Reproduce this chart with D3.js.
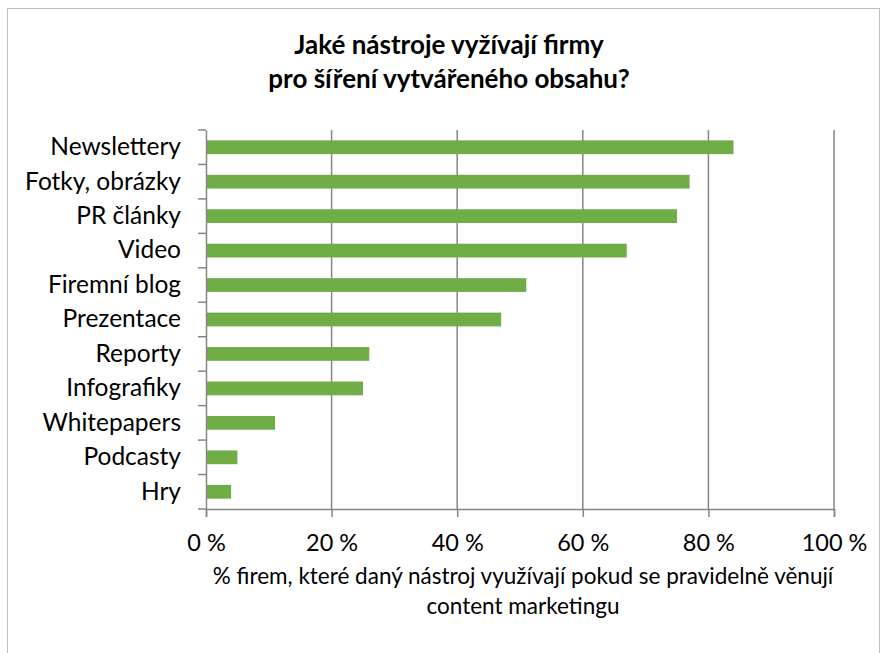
<!DOCTYPE html>
<html>
<head>
<meta charset="utf-8">
<script src="https://cdn.jsdelivr.net/npm/d3@7"></script>
<style>
  body { margin: 0; background: #fff; }
  text { font-family: Lato, "Open Sans", sans-serif; fill: #000; }
</style>
</head>
<body>
<svg id="chart" width="883" height="653"></svg>
<script>
var categories = ["Newslettery", "Fotky, obrázky", "PR články", "Video", "Firemní blog",
  "Prezentace", "Reporty", "Infografiky", "Whitepapers", "Podcasty", "Hry"];
var values = [84, 77, 75, 67, 51, 47, 26, 25, 11, 5, 4];
var xTicks = [0, 20, 40, 60, 80, 100];
var titleLines = ["Jaké nástroje vyžívají firmy", "pro šíření vytvářeného obsahu?"];
var axisTitleLines = ["% firem, které daný nástroj využívají pokud se pravidelně věnují", "content marketingu"];

var svg = d3.select("#chart");
var plot = { left: 206, right: 834, top: 130, bottom: 509 };

// chart frame
svg.append("rect")
  .attr("x", 7.5).attr("y", 8.5)
  .attr("width", 872).attr("height", 660)
  .attr("fill", "#fff")
  .attr("stroke", "#bfbfbf");

var xScale = d3.scaleLinear()
  .domain([0, 100])
  .range([plot.left, plot.right]);

var yScale = d3.scaleBand()
  .domain(categories)
  .range([plot.top, plot.bottom])
  .paddingInner(0.6)
  .paddingOuter(0.3);

var yEdges = d3.scaleBand()
  .domain(categories)
  .range([plot.top, plot.bottom]);

// gridlines
svg.append("g")
  .selectAll("line")
  .data(xTicks.slice(1))
  .enter()
  .append("line")
  .attr("x1", function(d) { return xScale(d); })
  .attr("x2", function(d) { return xScale(d); })
  .attr("y1", plot.top)
  .attr("y2", plot.bottom)
  .attr("stroke", "#868686")
  .attr("stroke-width", 1.5);

// bars
svg.append("g")
  .selectAll("rect")
  .data(values)
  .enter()
  .append("rect")
  .attr("x", xScale(0))
  .attr("y", function(d, i) { return yScale(categories[i]); })
  .attr("width", function(d) { return xScale(d) - xScale(0); })
  .attr("height", yScale.bandwidth())
  .attr("fill", "#70ad47");

// x axis
var xAxis = svg.append("g")
  .attr("transform", "translate(0," + plot.bottom + ")")
  .call(d3.axisBottom(xScale)
    .tickValues(xTicks)
    .tickSize(8)
    .tickPadding(17)
    .tickFormat(function(d) { return d + " %"; }));
xAxis.select(".domain").attr("stroke", "#868686").attr("stroke-width", 1.5);
xAxis.selectAll(".tick line").attr("stroke", "#868686").attr("stroke-width", 1.5);
xAxis.selectAll("text")
  .style("font-size", "23.5px")
  .attr("fill", "#000");

// y axis
var yAxis = svg.append("g")
  .attr("transform", "translate(" + plot.left + ",0)")
  .call(d3.axisLeft(yEdges).tickSize(0).tickPadding(25));
yAxis.select(".domain").attr("stroke", "#868686").attr("stroke-width", 1.5);
yAxis.selectAll("text")
  .style("font-size", "24.5px")
  .attr("fill", "#000");

// category separator ticks
svg.append("g")
  .selectAll("line")
  .data(d3.range(categories.length + 1))
  .enter()
  .append("line")
  .attr("x1", plot.left - 8)
  .attr("x2", plot.left)
  .attr("y1", function(i) { return plot.top + i * yEdges.step(); })
  .attr("y2", function(i) { return plot.top + i * yEdges.step(); })
  .attr("stroke", "#868686")
  .attr("stroke-width", 1.5);

// title
svg.append("text")
  .attr("x", 449)
  .attr("y", 54)
  .style("text-anchor", "middle")
  .style("font-size", "26px")
  .style("font-weight", "bold")
  .selectAll("tspan")
  .data(titleLines)
  .enter()
  .append("tspan")
  .attr("x", 449)
  .attr("dy", function(d, i) { return i ? 34 : 0; })
  .text(function(d) { return d; });

// x axis title
svg.append("text")
  .attr("x", 523)
  .attr("y", 584)
  .style("text-anchor", "middle")
  .style("font-size", "22.5px")
  .selectAll("tspan")
  .data(axisTitleLines)
  .enter()
  .append("tspan")
  .attr("x", 523)
  .attr("dy", function(d, i) { return i ? 30 : 0; })
  .text(function(d) { return d; });
</script>
</body>
</html>
